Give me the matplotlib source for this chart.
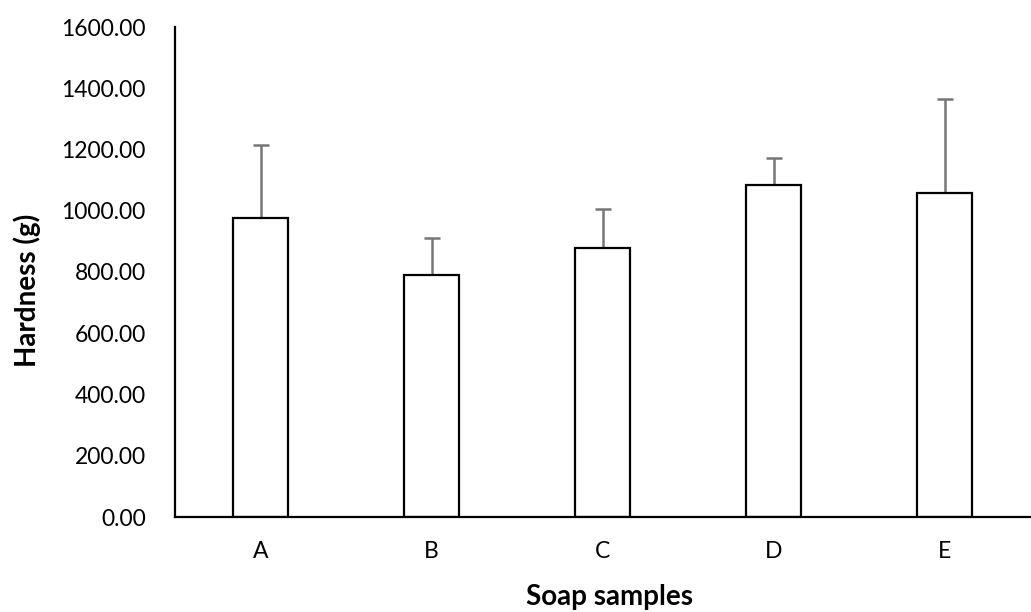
import matplotlib
matplotlib.use("Agg")
import matplotlib.pyplot as plt
import numpy as np

categories = ["A", "B", "C", "D", "E"]
hardness = [976, 791, 879, 1083, 1059]
errors = [239, 120, 127, 88, 305]
yticks = [0, 200, 400, 600, 800, 1000, 1200, 1400, 1600]

plt.rcParams['font.family'] = ['Lato', 'DejaVu Sans']

W, H = 1031, 612
fig = plt.figure(figsize=(W / 100, H / 100), dpi=100)
ax = fig.add_axes([175 / W, 1 - 517 / H, 855 / W, 490 / H])

x = np.arange(len(categories))
ax.bar(x, hardness, width=0.32, color="white", edgecolor="black", linewidth=1.6, zorder=2)
ax.errorbar(x, hardness, yerr=[np.zeros(len(errors)), errors], fmt="none",
            ecolor="#767676", elinewidth=1.8, capsize=6, capthick=1.8, zorder=1)

ax.set_xlim(-0.5, len(categories) - 0.5)
ax.set_ylim(0, 1600)
ax.set_yticks(yticks)
ax.set_yticklabels([f"{v:.2f}" for v in yticks])
ax.set_xticks(x)
ax.set_xticklabels(categories)
ax.tick_params(axis="both", length=0, labelsize=16.5, colors="black")
ax.tick_params(axis="y", pad=21)
ax.tick_params(axis="x", pad=17)

for s in ["top", "right"]:
    ax.spines[s].set_visible(False)
ax.spines["left"].set_linewidth(1.6)
ax.spines["bottom"].set_linewidth(1.6)

fig.text(27 / W, 1 - 290 / H, "Hardness (g)", rotation=90, ha="center", va="center",
         fontsize=20, fontweight="bold")
fig.text(609 / W, 1 - 605 / H, "Soap samples", ha="center", va="baseline",
         fontsize=20, fontweight="bold")

fig.savefig("out.png", dpi=100)
